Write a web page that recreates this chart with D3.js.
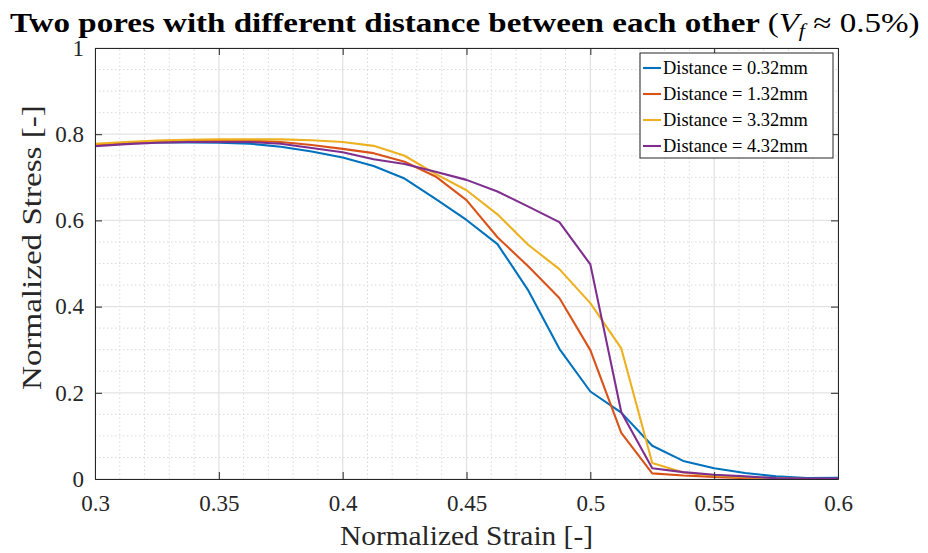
<!DOCTYPE html>
<html>
<head>
<meta charset="utf-8">
<script src="https://cdn.jsdelivr.net/npm/d3@7/dist/d3.min.js"></script>
<style>
  html, body { margin: 0; padding: 0; background: #fff; }
  svg { display: block; }
  svg text { font-family: "Liberation Serif", "DejaVu Serif", serif; }
</style>
</head>
<body>
<svg id="chart" width="928" height="553"></svg>
<script>
// Normalized strain sample points
const strain = [0.3, 0.3125, 0.325, 0.3375, 0.35, 0.3625, 0.375, 0.3875, 0.4, 0.4125,
  0.425, 0.4375, 0.45, 0.4625, 0.475, 0.4875, 0.5, 0.5125, 0.525, 0.5375,
  0.55, 0.5625, 0.575, 0.5875, 0.6];

// Normalized stress for each pore distance
const d032 = [0.775, 0.779, 0.781, 0.781, 0.780, 0.778, 0.771, 0.760, 0.746, 0.726,
  0.697, 0.650, 0.601, 0.545, 0.437, 0.302, 0.203, 0.154, 0.077, 0.042,
  0.025, 0.014, 0.006, 0.002, 0.003];
const d132 = [0.775, 0.780, 0.784, 0.785, 0.785, 0.785, 0.782, 0.775, 0.766, 0.756,
  0.736, 0.702, 0.647, 0.561, 0.493, 0.420, 0.299, 0.107, 0.013, 0.008,
  0.005, 0.002, 0.000, 0.000, 0.000];
const d332 = [0.778, 0.782, 0.785, 0.787, 0.788, 0.788, 0.788, 0.786, 0.782, 0.773,
  0.750, 0.708, 0.670, 0.614, 0.543, 0.487, 0.408, 0.303, 0.037, 0.015,
  0.008, 0.004, 0.002, 0.000, 0.000];
const d432 = [0.772, 0.777, 0.780, 0.782, 0.782, 0.782, 0.778, 0.768, 0.758, 0.742,
  0.731, 0.713, 0.694, 0.667, 0.632, 0.596, 0.498, 0.155, 0.025, 0.016,
  0.010, 0.006, 0.002, 0.001, 0.001];

const seriesNames = ["Distance = 0.32mm", "Distance = 1.32mm", "Distance = 3.32mm", "Distance = 4.32mm"];
const seriesColors = ["#0072BD", "#D95319", "#EDB120", "#7E2F8E"];
const seriesValues = [d032, d132, d332, d432];

const xTicks = [0.3, 0.35, 0.4, 0.45, 0.5, 0.55, 0.6];
const xTickLabels = ["0.3", "0.35", "0.4", "0.45", "0.5", "0.55", "0.6"];
const yTicks = [0, 0.2, 0.4, 0.6, 0.8, 1];
const yTickLabels = ["0", "0.2", "0.4", "0.6", "0.8", "1"];

const serif = "'Liberation Serif', 'DejaVu Serif', serif";
const svg = d3.select("#chart");
const margin = { left: 95, right: 90, top: 48, bottom: 74 };
const W = 928, H = 553;
const x = d3.scaleLinear().domain([0.3, 0.6]).range([margin.left, W - margin.right]);
const y = d3.scaleLinear().domain([0, 1]).range([H - margin.bottom, margin.top]);
const x0 = x.range()[0], x1 = x.range()[1], y0 = y.range()[0], y1 = y.range()[1];

// Stretch a text horizontally so that it spans the given width
function fitWidth(sel, width, prefix) {
  const w = sel.node().getBBox().width;
  const s = w > 0 ? width / w : 1;
  sel.attr("transform", `${prefix} scale(${s},1)`);
}

// Minor grid (dotted)
const xMinor = d3.range(0.31, 0.6, 0.01).filter(v => Math.abs(v * 20 - Math.round(v * 20)) > 1e-6);
const yMinor = d3.range(0.05, 1, 0.05).filter(v => Math.abs(v * 5 - Math.round(v * 5)) > 1e-6);
const grid = svg.append("g");
grid.selectAll(".xm").data(xMinor).join("line")
  .attr("x1", d => x(d)).attr("x2", d => x(d)).attr("y1", y0).attr("y2", y1)
  .attr("stroke", "#d9d9d9").attr("stroke-width", 1).attr("stroke-dasharray", "1.5,2.5");
grid.selectAll(".ym").data(yMinor).join("line")
  .attr("y1", d => y(d)).attr("y2", d => y(d)).attr("x1", x0).attr("x2", x1)
  .attr("stroke", "#d9d9d9").attr("stroke-width", 1).attr("stroke-dasharray", "1.5,2.5");

// Major grid
grid.selectAll(".xg").data(xTicks).join("line")
  .attr("x1", d => x(d)).attr("x2", d => x(d)).attr("y1", y0).attr("y2", y1)
  .attr("stroke", "#e3e3e3").attr("stroke-width", 1.3);
grid.selectAll(".yg").data(yTicks).join("line")
  .attr("y1", d => y(d)).attr("y2", d => y(d)).attr("x1", x0).attr("x2", x1)
  .attr("stroke", "#e3e3e3").attr("stroke-width", 1.3);

// Series lines
const line = d3.line().x((d, i) => x(strain[i])).y(d => y(d));
seriesValues.forEach((vals, k) => {
  svg.append("path").datum(vals)
    .attr("d", line).attr("fill", "none")
    .attr("stroke", seriesColors[k]).attr("stroke-width", 2.1)
    .attr("stroke-linejoin", "round");
});

// Axes with inward ticks, box on
const axisColor = "#262626";
const xAxis = d3.axisBottom(x).tickValues(xTicks).tickFormat((d, i) => xTickLabels[i])
  .tickSizeInner(-7).tickSizeOuter(0).tickPadding(16);
const gx = svg.append("g").attr("transform", `translate(0,${y0})`).call(xAxis)
  .attr("font-family", serif);
gx.select(".domain").attr("stroke", axisColor).attr("stroke-width", 1);
gx.selectAll(".tick line").attr("stroke", axisColor);
gx.selectAll("text").attr("fill", axisColor).style("font-size", "23px")
  .style("font-family", serif);

const yAxis = d3.axisLeft(y).tickValues(yTicks).tickFormat((d, i) => yTickLabels[i])
  .tickSizeInner(-7).tickSizeOuter(0).tickPadding(11);
const gy = svg.append("g").attr("transform", `translate(${x0},0)`).call(yAxis)
  .attr("font-family", serif);
gy.select(".domain").attr("stroke", axisColor).attr("stroke-width", 1);
gy.selectAll(".tick line").attr("stroke", axisColor);
gy.selectAll("text").attr("fill", axisColor).style("font-size", "23px")
  .style("font-family", serif);

// Top and right box edges with ticks
const gxt = svg.append("g").attr("transform", `translate(0,${y1})`)
  .call(d3.axisTop(x).tickValues(xTicks).tickFormat("").tickSizeInner(-7).tickSizeOuter(0));
gxt.select(".domain").attr("stroke", axisColor);
gxt.selectAll(".tick line").attr("stroke", axisColor);
const gyr = svg.append("g").attr("transform", `translate(${x1},0)`)
  .call(d3.axisRight(y).tickValues(yTicks).tickFormat("").tickSizeInner(-7).tickSizeOuter(0));
gyr.select(".domain").attr("stroke", axisColor);
gyr.selectAll(".tick line").attr("stroke", axisColor);

// Axis labels
const xl = svg.append("text").attr("x", 0).attr("y", 0)
  .attr("fill", axisColor)
  .style("font-size", "27px").style("font-family", serif).text("Normalized Strain [-]");
fitWidth(xl, 253, "translate(340,545)");
const yl = svg.append("text").attr("x", 0).attr("y", 0)
  .attr("fill", axisColor)
  .style("font-size", "27px").style("font-family", serif).text("Normalized Stress [-]");
fitWidth(yl, 285, "translate(41,390) rotate(-90)");

// Title
const title = svg.append("text").attr("x", 0).attr("y", 0)
  .attr("fill", "#000").style("font-size", "27px").style("font-family", serif);
title.append("tspan").style("font-weight", "bold").text("Two pores with different distance between each other ");
title.append("tspan").text("(");
title.append("tspan").style("font-style", "italic").text("V");
title.append("tspan").style("font-style", "italic").style("font-size", "18px").attr("dy", 5).text("f");
title.append("tspan").attr("dy", -5).text(" \u2248 0.5%)");
fitWidth(title, 910, "translate(10,32)");

// Legend
const lg = svg.append("g");
const lx = 640, ly = 53, lw = 193, lh = 105;
lg.append("rect").attr("x", lx).attr("y", ly).attr("width", lw).attr("height", lh)
  .attr("fill", "#fff").attr("stroke", axisColor).attr("stroke-width", 1);
seriesNames.forEach((name, k) => {
  const yy = ly + 15 + k * 26;
  lg.append("line").attr("x1", lx + 3).attr("x2", lx + 21).attr("y1", yy).attr("y2", yy)
    .attr("stroke", seriesColors[k]).attr("stroke-width", 2.1);
  const t = lg.append("text").attr("x", 0).attr("y", 0).attr("fill", "#000")
    .style("font-size", "18px").style("font-family", serif).text(name);
  fitWidth(t, 145, `translate(${lx + 23},${yy + 6})`);
});
</script>
</body>
</html>
